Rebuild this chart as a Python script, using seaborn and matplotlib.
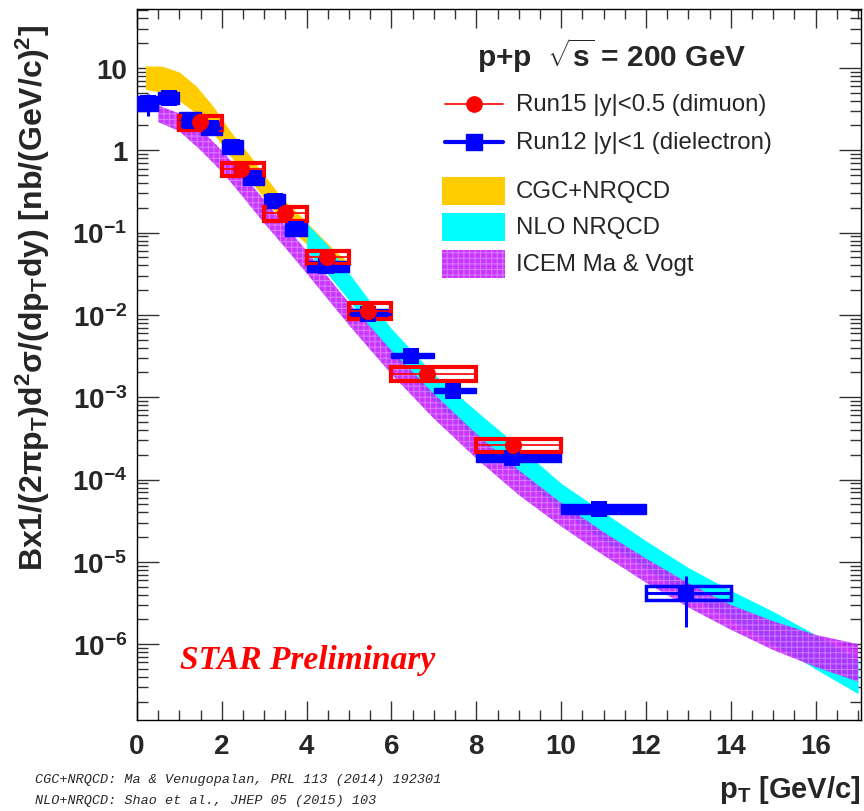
import numpy as np
import pandas as pd
import matplotlib
matplotlib.use("Agg")
import matplotlib.pyplot as plt
import seaborn as sns
from matplotlib.patches import Rectangle
from matplotlib.lines import Line2D
from matplotlib.ticker import MultipleLocator, FixedLocator, LogLocator, NullFormatter

# ---------------- data ----------------
# Run15 |y|<0.5 (dimuon)
run15_pt = [1.48, 2.45, 3.48, 4.47, 5.44, 6.83, 8.87]
run15_lo = [1, 2, 3, 4, 5, 6, 8]
run15_hi = [2, 3, 4, 5, 6, 8, 10]
run15_y = [2.2, 0.59, 0.173, 0.050, 0.0112, 0.0019, 2.6e-4]
run15_stat = [0.15, 0.04, 0.012, 0.004, 0.001, 0.0003, 0.6e-4]
run15_sys_lo = [1.77, 0.488, 0.138, 0.042, 0.0090, 0.00157, 2.16e-4]
run15_sys_hi = [2.61, 0.70, 0.205, 0.0597, 0.0140, 0.00233, 3.1e-4]

# Run12 |y|<1 (dielectron)
run12_pt = [0.25, 0.75, 1.25, 1.75, 2.25, 2.75, 3.25, 3.75, 4.45, 5.45, 6.45, 7.45, 8.85, 10.9, 12.95]
run12_lo = [0, 0.5, 1, 1.5, 2, 2.5, 3, 3.5, 4, 5, 6, 7, 8, 10, 12]
run12_hi = [0.5, 1, 1.5, 2, 2.5, 3, 3.5, 4, 5, 6, 7, 8, 10, 12, 14]
run12_y = [3.7, 4.3, 2.27, 1.87, 1.10, 0.46, 0.242, 0.111, 0.039, 0.0102, 0.0032, 0.0012, 1.85e-4, 4.4e-5, 4.2e-6]
run12_stat = [1.1, 0.4, 0.2, 0.12, 0.06, 0.03, 0.015, 0.008, 0.003, 0.0008, 0.0002, 0.00008, 1.5e-5, 4e-6, 2.6e-6]
run12_sys_lo = [3.0, 3.65, 1.82, 1.53, 0.90, 0.38, 0.20, 0.091, 0.0335, 0.0089, 0.0030, 0.00111, 1.63e-4, 3.8e-5, 3.44e-6]
run12_sys_hi = [4.57, 5.1, 2.92, 2.27, 1.33, 0.56, 0.295, 0.134, 0.0454, 0.0118, 0.0034, 0.00128, 2.16e-4, 5.0e-5, 5.08e-6]

# CGC+NRQCD band
cgc_pt = [0.2, 0.6, 1.0, 1.4, 1.8, 2.2, 2.6, 3.0, 3.4, 3.8, 4.2, 4.6, 5.0]
cgc_hi = [10.6, 10.5, 8.9, 6.0, 3.4, 1.7, 0.95, 0.5, 0.27, 0.17, 0.105, 0.065, 0.042]
cgc_lo = [5.5, 5.0, 4.0, 2.8, 1.6, 0.85, 0.48, 0.26, 0.145, 0.09, 0.058, 0.037, 0.025]

# NLO NRQCD band
nlo_pt = [4.0, 4.5, 5.0, 5.5, 6, 7, 8, 9, 10, 11, 12, 13, 14, 15, 16, 17]
nlo_hi = [0.13, 0.07, 0.032, 0.0145, 0.0068, 0.0019, 6.8e-4, 2.5e-4, 9e-5, 4e-5, 1.8e-5, 8.5e-6, 4.5e-6, 2.5e-6, 1.3e-6, 6.5e-7]
nlo_lo = [0.06, 0.031, 0.015, 0.0068, 0.0032, 0.0009, 3.1e-4, 1.15e-4, 4.2e-5, 1.8e-5, 8.2e-6, 3.9e-6, 2.0e-6, 1.0e-6, 5e-7, 2.5e-7]

# ICEM Ma & Vogt band
icem_pt = [0.5, 1, 1.5, 2, 2.5, 3, 3.5, 4, 5, 6, 7, 8, 9, 10, 11, 12, 13, 14, 15, 16, 17]
icem_hi = [3.5, 2.8, 1.8, 1.0, 0.5, 0.25, 0.12, 0.06, 0.014, 0.0037, 1.1e-3, 3.6e-4, 1.3e-4, 5.2e-5, 2.3e-5, 1.1e-5, 5.5e-6, 3.0e-6, 1.9e-6, 1.3e-6, 1.0e-6]
icem_lo = [2.2, 1.7, 1.0, 0.55, 0.27, 0.13, 0.065, 0.032, 0.0075, 0.0019, 5.5e-4, 1.8e-4, 6.5e-5, 2.7e-5, 1.2e-5, 5.6e-6, 2.8e-6, 1.5e-6, 8.5e-7, 5.3e-7, 3.5e-7]

ytick_vals = [1e-6, 1e-5, 1e-4, 1e-3, 1e-2, 1e-1, 1, 10]
ytick_labels = [r"$10^{-6}$", r"$10^{-5}$", r"$10^{-4}$", r"$10^{-3}$", r"$10^{-2}$", r"$10^{-1}$", "1", "10"]

# ---------------- style ----------------
sns.set_theme(style="ticks")
plt.rcParams["font.family"] = ["Liberation Sans", "DejaVu Sans"]
plt.rcParams["mathtext.fontset"] = "custom"
plt.rcParams["mathtext.rm"] = "Liberation Sans:bold"
plt.rcParams["mathtext.it"] = "Liberation Sans:bold"
plt.rcParams["mathtext.bf"] = "Liberation Sans:bold"
plt.rcParams["mathtext.sf"] = "Liberation Sans:bold"
plt.rcParams["hatch.linewidth"] = 0.7

W, H = 864, 812
fig = plt.figure(figsize=(W / 100, H / 100), dpi=100)
L, R, T, B = 137, 861, 10, 721
ax = fig.add_axes([L / W, 1 - B / H, (R - L) / W, (B - T) / H])
ax.set_facecolor("white")

def fx(px):
    return px / W

def fy(py):
    return 1 - py / H

ORANGE = "#FFCC00"
CYAN = "#00FFFF"
PURPLE_FILL = (0.76, 0.10, 1.0, 0.88)
HATCH_COL = (1.0, 1.0, 1.0, 0.35)

# ---------------- bands ----------------
ax.fill_between(cgc_pt, cgc_lo, cgc_hi, color=ORANGE, lw=0, zorder=1)
ax.fill_between(nlo_pt, nlo_lo, nlo_hi, color=CYAN, lw=0, zorder=2)
ax.fill_between(icem_pt, icem_lo, icem_hi, facecolor=PURPLE_FILL,
                edgecolor=HATCH_COL, hatch="+++", lw=0, zorder=3)

# ---------------- data ----------------
n12 = len(run12_pt)
for i, (lo, hi, slo, shi) in enumerate(zip(run12_lo, run12_hi, run12_sys_lo, run12_sys_hi)):
    filled = i < n12 - 1
    ax.add_patch(Rectangle((lo, slo), hi - lo, shi - slo, facecolor="#0000FF" if filled else "none",
                           edgecolor="#0000FF", lw=2.5 if not filled else 1.0, zorder=4))

for lo, hi, slo, shi in zip(run15_lo, run15_hi, run15_sys_lo, run15_sys_hi):
    ax.add_patch(Rectangle((lo, slo), hi - lo, shi - slo, facecolor="none",
                           edgecolor="#FF0000", lw=3.0, zorder=5))

r12x = np.array(run12_pt)
ax.errorbar(r12x, run12_y, xerr=[r12x - np.array(run12_lo), np.array(run12_hi) - r12x],
            yerr=run12_stat, fmt="none", ecolor="#0000FF", elinewidth=2.2, capsize=0, zorder=6)
r15x = np.array(run15_pt)
ax.errorbar(r15x, run15_y, xerr=[r15x - np.array(run15_lo), np.array(run15_hi) - r15x],
            yerr=run15_stat, fmt="none", ecolor="#FF0000", elinewidth=1.2, capsize=0, zorder=6)

df12 = pd.DataFrame({"pt": run12_pt, "y": run12_y})
df15 = pd.DataFrame({"pt": run15_pt, "y": run15_y})
sns.scatterplot(data=df12, x="pt", y="y", marker="s", s=120, color="#0000FF", edgecolor="#0000FF",
                linewidth=0, ax=ax, zorder=7)
sns.scatterplot(data=df15, x="pt", y="y", marker="o", s=150, color="#FF0000", edgecolor="#FF0000",
                linewidth=0, ax=ax, zorder=8)

# ---------------- axes ----------------
ax.set_yscale("log")
ax.set_xlim(0, 17.07)
ax.set_ylim(1.2e-7, 52)
ax.set_xlabel("")
ax.set_ylabel("")

ax.xaxis.set_minor_locator(MultipleLocator(0.5))
ax.set_xticks([0, 2, 4, 6, 8, 10, 12, 14, 16])
ax.set_xticklabels(["0", "2", "4", "6", "8", "10", "12", "14", "16"], fontweight="bold", fontsize=20)
ax.yaxis.set_major_locator(FixedLocator(ytick_vals))
ax.set_yticklabels(ytick_labels, fontsize=20, fontweight="bold")
ax.yaxis.set_minor_locator(LogLocator(base=10, subs=np.arange(2, 10), numticks=30))
ax.yaxis.set_minor_formatter(NullFormatter())

ax.tick_params(which="both", direction="in", top=True, right=True, color="#333333", width=1.0)
ax.tick_params(axis="x", which="major", length=14, pad=9)
ax.tick_params(axis="x", which="minor", length=7)
ax.tick_params(axis="y", which="major", length=16, pad=7)
ax.tick_params(axis="y", which="minor", length=8)
for s in ax.spines.values():
    s.set_color("black")
    s.set_linewidth(1.0)
    s.set_visible(True)

# y label
fig.text(fx(33), fy(298),
         r"Bx1/(2$\pi$p$_{T}$)d$^{2}$$\sigma$/(dp$_{T}$dy) [nb/(GeV/c)$^{2}$]",
         rotation=90, ha="center", va="center", fontsize=23, fontweight="bold")
# x label
fig.text(fx(861), fy(790), r"p$_{T}$ [GeV/c]", ha="right", va="center", fontsize=21, fontweight="bold")

# STAR Preliminary
fig.text(fx(180), fy(661), "STAR Preliminary", color="#FF0000", fontsize=24,
         family=["Liberation Serif", "DejaVu Serif"], style="italic", fontweight="bold",
         ha="left", va="center")

# references
fig.text(fx(35), fy(780), "CGC+NRQCD: Ma & Venugopalan, PRL 113 (2014) 192301",
         family=["Liberation Mono", "DejaVu Sans Mono"], style="italic", fontsize=9.7,
         ha="left", va="center")
fig.text(fx(35), fy(801), "NLO+NRQCD: Shao et al., JHEP 05 (2015) 103",
         family=["Liberation Mono", "DejaVu Sans Mono"], style="italic", fontsize=9.7,
         ha="left", va="center")

# ---------------- legend ----------------
fig.text(fx(477), fy(56), r"p+p  $\sqrt{s}$ = 200 GeV", fontsize=21.5, fontweight="bold",
         ha="left", va="center")
leg_items = [
    ("#FF0000", "o", 1.2, "Run15 |y|<0.5 (dimuon)", 105),
    ("#0000FF", "s", 3.0, "Run12 |y|<1 (dielectron)", 143),
]
for col, mk, lw, label, yc in leg_items:
    fig.add_artist(Line2D([fx(445), fx(503)], [fy(yc), fy(yc)], color=col, lw=lw,
                          transform=fig.transFigure))
    fig.add_artist(Line2D([fx(474)], [fy(yc)], color=col, marker=mk, markersize=11, lw=0,
                          transform=fig.transFigure))
    fig.text(fx(516), fy(yc), label, fontsize=17.3, ha="left", va="center")

patch_items = [
    (dict(facecolor=ORANGE, edgecolor="none"), "CGC+NRQCD", 192),
    (dict(facecolor=CYAN, edgecolor="none"), "NLO NRQCD", 228),
    (dict(facecolor=PURPLE_FILL, edgecolor=HATCH_COL, hatch="+++", lw=0), "ICEM Ma & Vogt", 265),
]
for kw, label, yc in patch_items:
    fig.add_artist(Rectangle((fx(442), fy(yc + 14)), fx(505) - fx(442), fy(yc - 14) - fy(yc + 14),
                             transform=fig.transFigure, **kw))
    fig.text(fx(516), fy(yc), label, fontsize=17.3, ha="left", va="center")

fig.savefig("out.png", dpi=100)
